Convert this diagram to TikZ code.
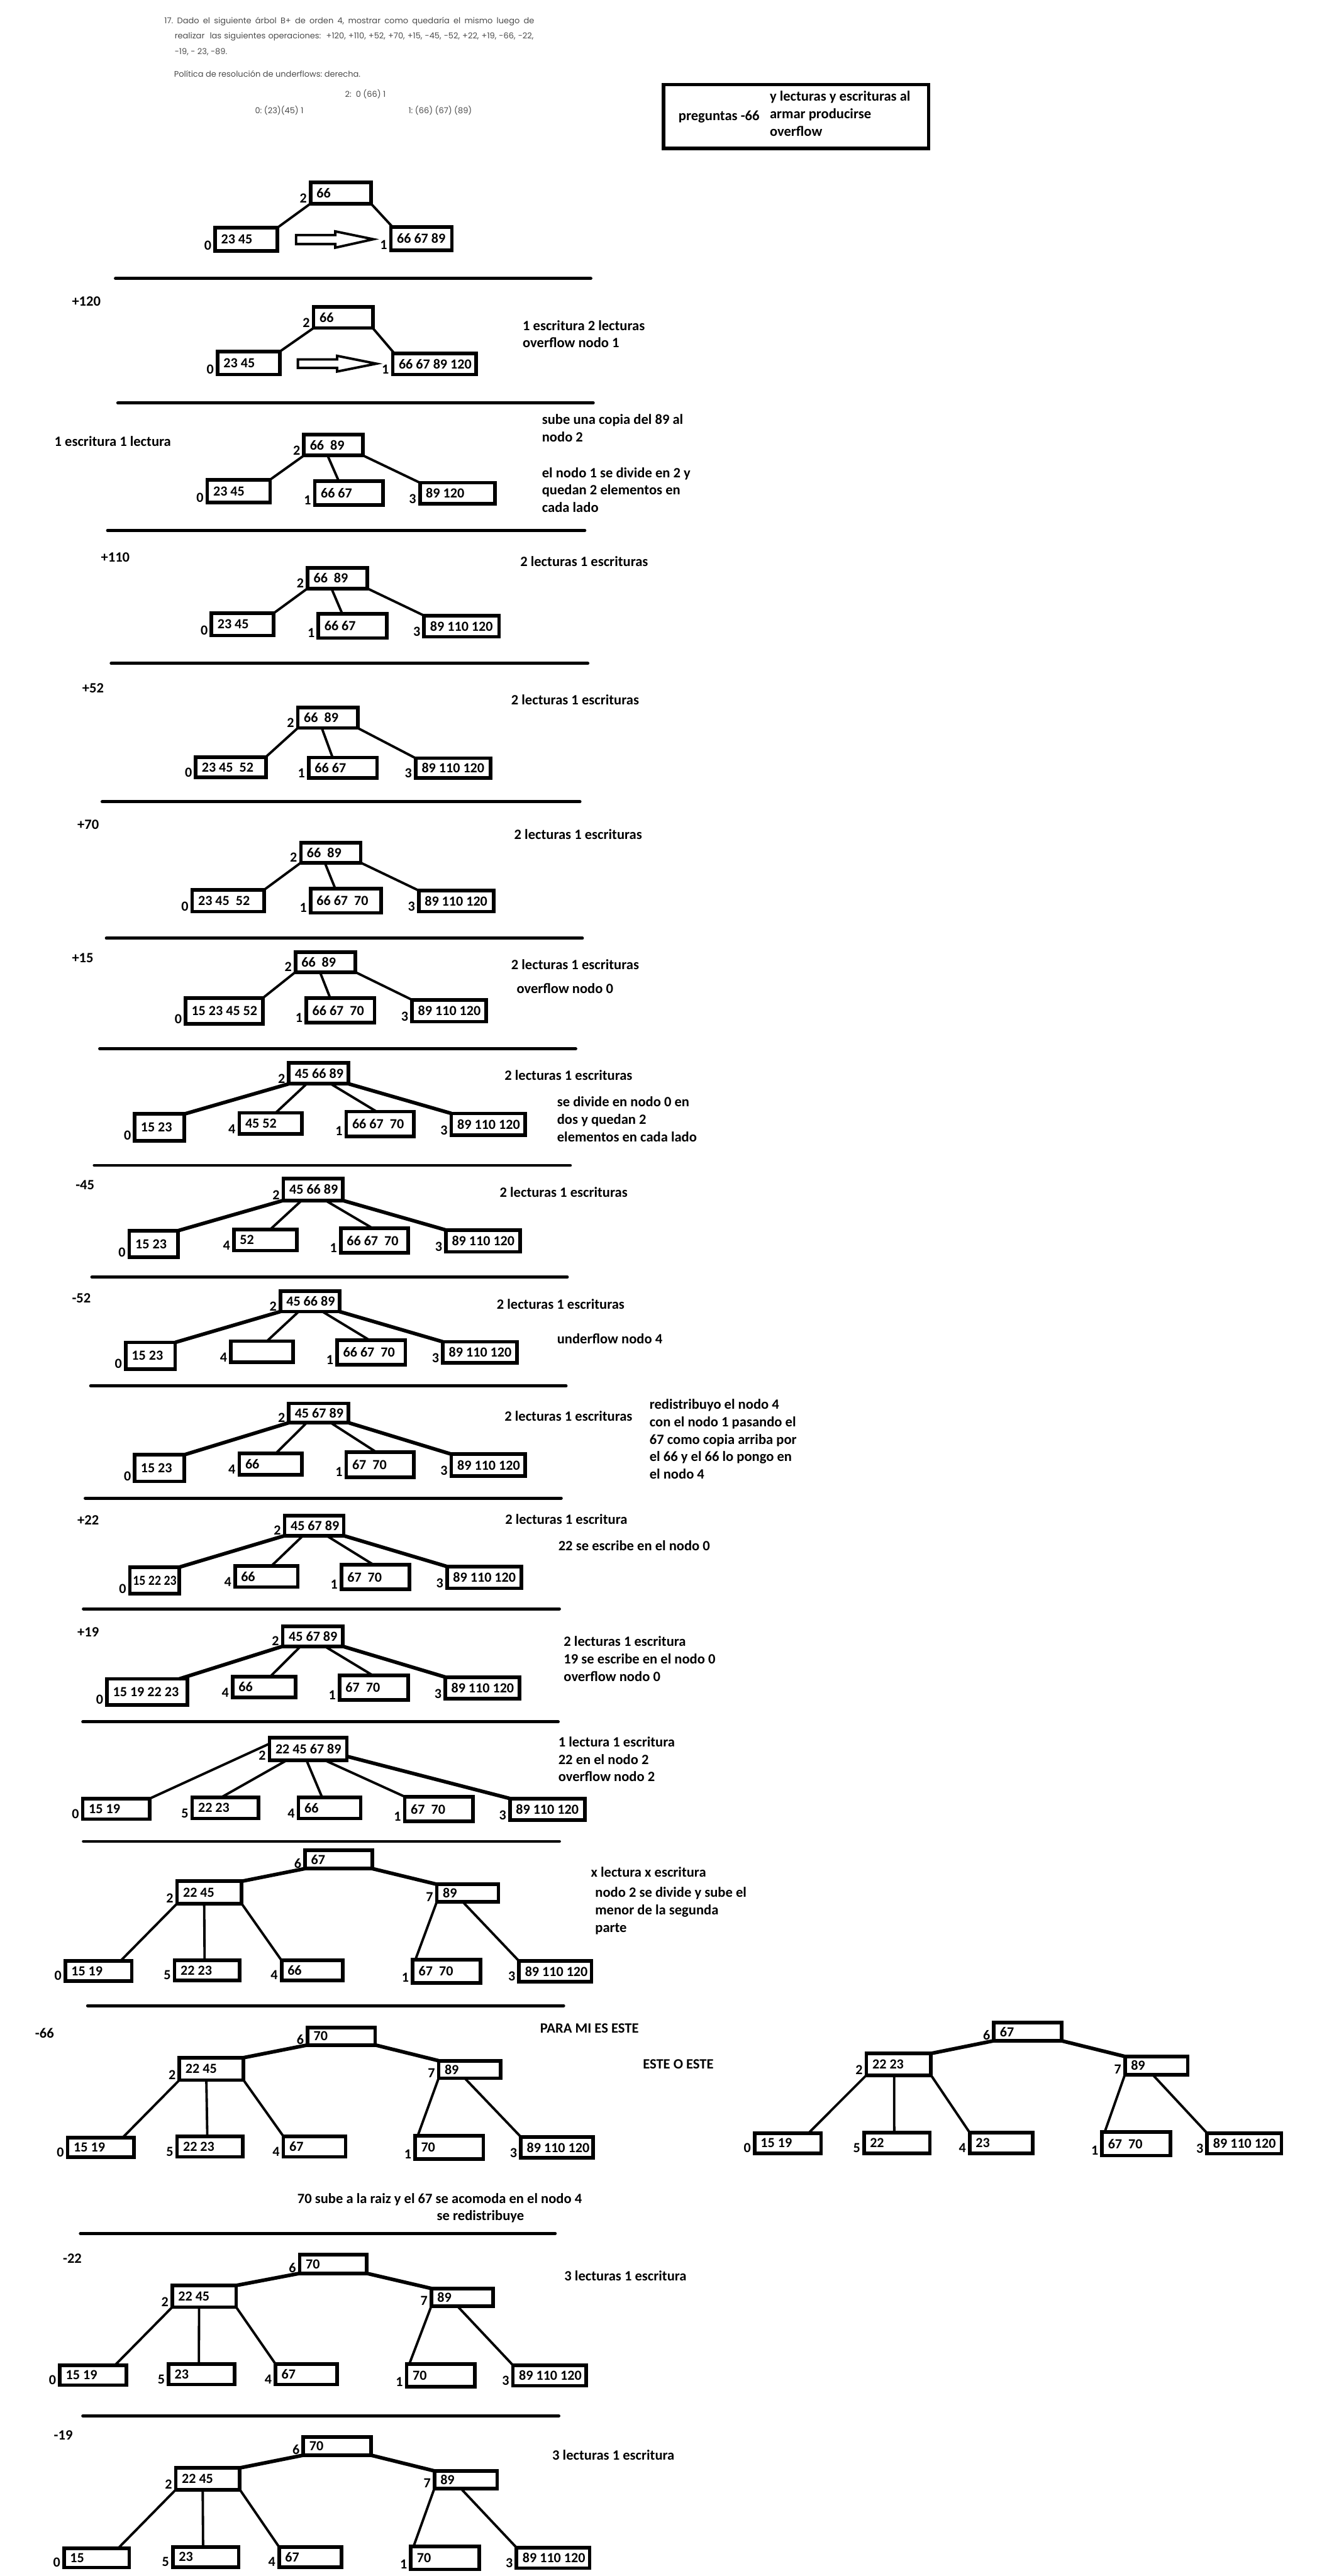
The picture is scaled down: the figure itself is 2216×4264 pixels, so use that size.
\documentclass[tikz,border=0pt]{standalone}
\usepackage{fontspec}
\usepackage{graphicx}
\usetikzlibrary{calc}
\newfontfamily\calfam{Carlito}
\newfontfamily\popfam{Poppins}
\newcommand\cfont{\calfam\bfseries\fontsize{23}{29}\selectfont}
\newcommand\nfont{\calfam\bfseries\fontsize{23.5}{29}\selectfont}
\newcommand\hdrf{\popfam\fontsize{13.5}{16}\selectfont\frenchspacing}
\definecolor{hdrgray}{gray}{0.3}
\tikzset{
  bx/.style={draw, line width=6pt, inner xsep=10pt, inner ysep=0pt, outer sep=0pt, font=\cfont, anchor=north west},
  lbl/.style={font=\cfont, inner sep=0pt, anchor=base east},
  cn/.style={line width=4pt},
  cnb/.style={line width=6pt},
  sepline/.style={line width=5pt, line cap=round},
  note/.style={font=\nfont, inner sep=0pt, anchor=west, align=left},
  hdr/.style={font=\hdrf, text=hdrgray, inner sep=0pt, anchor=west},
  blockarrow/.style={line width=4pt, line join=miter},
}
\newcommand\mybox[7]{%
  \pgfmathsetmacro\myw{#4-#2-26}%
  \pgfmathsetmacro\myh{#5-#3-6}%
  \node[bx, minimum height=\myh pt] (#1) at ({#2+3},{#3+3}) {\makebox[\myw pt][l]{#6}};%
  \node[lbl] (#1l) at ([xshift=-6pt,yshift=1pt]#1.south west) {#7};%
}
\newcommand\conn[5][cn]{%
  \draw[#1] ($(#2.south west)!#3!(#2.south east)$) -- ($(#4.north west)!#5!(#4.north east)$);%
}
\begin{document}
\begin{tikzpicture}[x=1pt,y=-1pt]
\fill[white] (0,0) rectangle (2216,4264);
\useasboundingbox (0,0) rectangle (2216,4264);

% ---------- header ----------
\node[hdr] (hd1) at (272,36) {\makebox[612pt][s]{17. Dado el siguiente árbol B+ de orden 4, mostrar como quedaría el mismo luego de}};
\node[hdr] (hd2) at (289,61) {\makebox[594pt][s]{realizar \ las siguientes operaciones: \ +120, +110, +52, +70, +15, -45, -52, +22, +19, -66, -22,}};
\node[hdr] (hd3) at (289,86) {-19, - 23, -89.};
\node[hdr] (hd4) at (288,122) {Política de resolución de underflows: derecha.};
\node[hdr] (hd5) at (571,156) {2: \ 0 (66) 1};
\node[hdr] (hd6) at (422,183) {0: (23)(45) 1};
\node[hdr] (hd7) at (676,183) {1: (66) (67) (89)};

% ---------- question box ----------
\node[draw, line width=6pt, anchor=north west, minimum width=439pt, minimum height=106pt, inner sep=0pt, outer sep=0pt] (qbox) at (1098,140) {};
\node[note] (qt1) at (1123,193) {preguntas -66};
\node[note] (qt2) at (1274,188) {y lecturas y escrituras al\\armar producirse\\overflow};

% ---------- tree A ----------
\mybox{a2}{511}{299}{617}{340}{66}{2}
\mybox{a0}{353}{374}{462}{418}{23 45}{0}
\mybox{a1}{644}{373}{751}{417}{66 67 89}{1}
\conn{a2}{0}{a0}{1}
\conn{a2}{1}{a1}{0.03}
\draw[blockarrow] (490,389) -- (555,389) -- (555,383) -- (618,396) -- (555,410) -- (555,404) -- (490,404) -- cycle;
\draw[sepline] (191,461) -- (978,461);

% ---------- tree B ----------
\node[note] (tB) at (119,499) {+120};
\mybox{b2}{516}{505}{620}{546}{66}{2}
\mybox{b0}{357}{579}{466}{623}{23 45}{0}
\mybox{b1}{647}{582}{791}{623}{66 67 89 120}{1}
\conn{b2}{0}{b0}{1}
\conn{b2}{1}{b1}{0.02}
\draw[blockarrow] (493,595) -- (558,595) -- (558,589) -- (623,602) -- (558,615) -- (558,609) -- (493,609) -- cycle;
\node[note] (nB) at (865,553) {1 escritura 2 lecturas\\overflow nodo 1};
\draw[sepline] (195,667) -- (982,667);

% ---------- tree C ----------
\node[note] (tC) at (90,730) {1 escritura 1 lectura};
\mybox{c2}{500}{716}{604}{757}{66~~89}{2}
\mybox{c0}{340}{791}{450}{835}{23 45}{0}
\mybox{c1}{518}{793}{637}{839}{66 67}{1}
\mybox{c3}{692}{796}{822}{837}{89 120}{3}
\conn{c2}{0}{c0}{1}
\conn{c2}{0.4}{c1}{0.35}
\conn{c2}{1}{c3}{0}
\node[note] (nC1) at (897,709) {sube una copia del 89 al\\nodo 2};
\node[note] (nC2) at (897,811) {el nodo 1 se divide en 2 y\\quedan 2 elementos en\\cada lado};
\draw[sepline] (178,878) -- (968,878);

% ---------- tree D ----------
\node[note] (tD) at (167,923) {+110};
\mybox{d2}{506}{937}{611}{977}{66~~89}{2}
\mybox{d0}{347}{1012}{456}{1055}{23 45}{0}
\mybox{d1}{524}{1013}{643}{1059}{66 67}{1}
\mybox{d3}{699}{1016}{829}{1057}{89 110 120}{3}
\conn{d2}{0}{d0}{1}
\conn{d2}{0.4}{d1}{0.35}
\conn{d2}{1}{d3}{0}
\node[note] (nD) at (861,929) {2 lecturas 1 escrituras};
\draw[sepline] (184,1098) -- (973,1098);

% ---------- tree E ----------
\node[note] (tE) at (136,1139) {+52};
\mybox{e2}{490}{1168}{595}{1208}{66~~89}{2}
\mybox{e0}{321}{1250}{443}{1290}{23 45~~52}{0}
\mybox{e1}{508}{1251}{627}{1291}{66 67}{1}
\mybox{e3}{685}{1252}{815}{1291}{89 110 120}{3}
\conn{e2}{0}{e0}{1}
\conn{e2}{0.4}{e1}{0.35}
\conn{e2}{1}{e3}{0}
\node[note] (nE) at (846,1158) {2 lecturas 1 escrituras};
\draw[sepline] (169,1327) -- (960,1327);

% ---------- tree F ----------
\node[note] (tF) at (128,1365) {+70};
\mybox{f2}{495}{1392}{600}{1431}{66~~89}{2}
\mybox{f0}{315}{1470}{440}{1512}{23 45~~52}{0}
\mybox{f1}{511}{1468}{634}{1514}{66 67~~70}{1}
\mybox{f3}{690}{1471}{820}{1512}{89 110 120}{3}
\conn{f2}{0}{f0}{1}
\conn{f2}{0.4}{f1}{0.35}
\conn{f2}{1}{f3}{0}
\node[note] (nF) at (851,1381) {2 lecturas 1 escrituras};
\draw[sepline] (176,1553) -- (964,1553);

% ---------- tree G ----------
\node[note] (tG) at (119,1586) {+15};
\mybox{g2}{486}{1573}{591}{1612}{66~~89}{2}
\mybox{g0}{304}{1649}{438}{1698}{15 23 45 52}{0}
\mybox{g1}{504}{1649}{623}{1696}{66 67~~70}{1}
\mybox{g3}{679}{1652}{808}{1694}{89 110 120}{3}
\conn{g2}{0}{g0}{1}
\conn{g2}{0.41}{g1}{0.35}
\conn{g2}{1}{g3}{0}
\node[note] (nG1) at (846,1597) {2 lecturas 1 escrituras};
\node[note] (nG2) at (855,1636) {overflow nodo 0};
\draw[sepline] (165,1736) -- (953,1736);

% ---------- tree H ----------
\mybox{h2}{475}{1756}{580}{1797}{45 66 89}{2}
\mybox{h0}{220}{1841}{308}{1891}{15 23}{0}
\mybox{h4}{393}{1839}{503}{1880}{45 52}{4}
\mybox{h1}{570}{1837}{688}{1884}{66 67~~70}{1}
\mybox{h3}{744}{1840}{872}{1882}{89 110 120}{3}
\conn[cnb]{h2}{0}{h0}{1}
\conn{h2}{0.3}{h4}{0.58}
\conn{h2}{0.7}{h1}{0.45}
\conn[cnb]{h2}{1}{h3}{0}
\node[note] (nH1) at (835,1780) {2 lecturas 1 escrituras};
\node[note] (nH2) at (922,1853) {se divide en nodo 0 en\\dos y quedan 2\\elementos en cada lado};
\draw[sepline] (156,1929) -- (944,1929);

% ---------- tree I ----------
\node[note] (tI) at (125,1962) {-45};
\mybox{i2}{466}{1948}{570}{1990}{45 66 89}{2}
\mybox{i0}{211}{2034}{298}{2084}{15 23}{0}
\mybox{i4}{384}{2032}{494}{2073}{52}{4}
\mybox{i1}{561}{2030}{679}{2077}{66 67~~70}{1}
\mybox{i3}{735}{2033}{864}{2075}{89 110 120}{3}
\conn[cnb]{i2}{0}{i0}{1}
\conn{i2}{0.31}{i4}{0.58}
\conn{i2}{0.71}{i1}{0.47}
\conn[cnb]{i2}{1}{i3}{0}
\node[note] (nI) at (827,1973) {2 lecturas 1 escrituras};
\draw[sepline] (152,2114) -- (939,2114);

% ---------- tree J ----------
\node[note] (tJ) at (119,2149) {-52};
\mybox{j2}{461}{2134}{565}{2174}{45 66 89}{2}
\mybox{j0}{205}{2219}{293}{2269}{15 23}{0}
\mybox{j4}{379}{2217}{488}{2258}{}{4}
\mybox{j1}{555}{2215}{674}{2262}{66 67~~70}{1}
\mybox{j3}{730}{2218}{859}{2259}{89 110 120}{3}
\conn[cnb]{j2}{0}{j0}{1}
\conn{j2}{0.31}{j4}{0.58}
\conn{j2}{0.71}{j1}{0.47}
\conn[cnb]{j2}{1}{j3}{0}
\node[note] (nJ1) at (822,2159) {2 lecturas 1 escrituras};
\node[note] (nJ2) at (922,2216) {underflow nodo 4};
\draw[sepline] (150,2294) -- (937,2294);

% ---------- tree K ----------
\mybox{k2}{475}{2320}{580}{2358}{45 67 89}{2}
\mybox{k0}{220}{2405}{308}{2455}{15 23}{0}
\mybox{k4}{393}{2403}{503}{2444}{66}{4}
\mybox{k1}{570}{2401}{688}{2448}{67~~70}{1}
\mybox{k3}{744}{2404}{872}{2446}{89 110 120}{3}
\conn[cnb]{k2}{0}{k0}{1}
\conn{k2}{0.3}{k4}{0.58}
\conn{k2}{0.7}{k1}{0.45}
\conn[cnb]{k2}{1}{k3}{0}
\node[note] (nK1) at (835,2344) {2 lecturas 1 escrituras};
\node[note] (nK2) at (1075,2382) {redistribuyo el nodo 4\\con el nodo 1 pasando el\\67 como copia arriba por\\el 66 y el 66 lo pongo en\\el nodo 4};
\draw[sepline] (141,2480) -- (929,2480);

% ---------- tree L ----------
\node[note] (tL) at (128,2516) {+22};
\mybox{l2}{468}{2506}{572}{2545}{45 67 89}{2}
\mybox{l0}{212}{2591}{300}{2641}{\hspace{-5pt}\scalebox{0.9}[1]{15 22 23}}{0}
\mybox{l4}{386}{2589}{496}{2630}{66}{4}
\mybox{l1}{562}{2587}{681}{2634}{67~~70}{1}
\mybox{l3}{737}{2590}{866}{2632}{89 110 120}{3}
\conn[cnb]{l2}{0}{l0}{1}
\conn{l2}{0.31}{l4}{0.58}
\conn{l2}{0.71}{l1}{0.47}
\conn[cnb]{l2}{1}{l3}{0}
\node[note] (nL1) at (836,2515) {2 lecturas 1 escritura};
\node[note] (nL2) at (924,2558) {22 se escribe en el nodo 0};
\draw[sepline] (138,2663) -- (926,2663);

% ---------- tree M ----------
\node[note] (tM) at (128,2702) {+19};
\mybox{m2}{465}{2689}{570}{2728}{45 67 89}{2}
\mybox{m0}{174}{2776}{313}{2825}{15 19 22 23}{0}
\mybox{m4}{382}{2772}{492}{2813}{66}{4}
\mybox{m1}{559}{2770}{679}{2817}{67~~70}{1}
\mybox{m3}{734}{2773}{863}{2815}{89 110 120}{3}
\conn[cnb]{m2}{0}{m0}{0.9}
\conn{m2}{0.3}{m4}{0.6}
\conn{m2}{0.7}{m1}{0.48}
\conn[cnb]{m2}{1}{m3}{0}
\node[note] (nM) at (933,2746) {2 lecturas 1 escritura\\19 se escribe en el nodo 0\\overflow nodo 0};
\draw[sepline] (137,2850) -- (924,2850);

% ---------- tree N ----------
\mybox{n2}{443}{2873}{577}{2917}{22 45 67 89}{2}
\mybox{n0}{134}{2974}{251}{3014}{15 19}{0}
\mybox{n5}{315}{2972}{431}{3013}{22 23}{5}
\mybox{n4}{491}{2972}{600}{3013}{66}{4}
\mybox{n1}{667}{2971}{786}{3018}{67~~70}{1}
\mybox{n3}{841}{2974}{971}{3016}{89 110 120}{3}
\draw[cn] ($(n2.north west)!0.27!(n2.south west)$) -- (n0.north east);
\conn{n2}{0.22}{n5}{0.44}
\conn{n2}{0.48}{n4}{0.38}
\conn{n2}{0.72}{n1}{0}
\draw[cnb] ($(n2.north east)!0.82!(n2.south east)$) -- (n3.north west);
\node[note] (nN) at (924,2912) {1 lectura 1 escritura\\22 en el nodo 2\\overflow nodo 2};
\draw[sepline] (138,3048) -- (926,3048);

% ---------- tree O ----------
\mybox{o6}{502}{3060}{619}{3096}{67}{6}
\mybox{o2}{290}{3111}{403}{3154}{22 45}{2}
\mybox{o7}{720}{3116}{828}{3151}{89}{7}
\mybox{o0}{105}{3243}{221}{3282}{15 19}{0}
\mybox{o5}{286}{3242}{400}{3281}{22 23}{5}
\mybox{o4}{463}{3242}{570}{3281}{66}{4}
\mybox{o1}{680}{3241}{798}{3285}{67~~70}{1}
\mybox{o3}{856}{3243}{982}{3283}{89 110 120}{3}
\conn[cnb]{o6}{0}{o2}{1}
\conn[cnb]{o6}{1}{o7}{0}
\conn{o2}{0}{o0}{0.83}
\conn{o2}{0.42}{o5}{0.46}
\conn{o2}{1}{o4}{0}
\conn{o7}{0}{o1}{0.04}
\conn{o7}{0.42}{o3}{0}
\node[note] (nO1) at (978,3099) {x lectura x escritura};
\node[note] (nO2) at (985,3163) {nodo 2 se divide y sube el\\menor de la segunda\\parte};
\draw[sepline] (145,3320) -- (933,3320);

% ---------- tree P ----------
\node[note] (tP) at (58,3365) {-66};
\mybox{p6}{506}{3353}{624}{3388}{70}{6}
\mybox{p2}{294}{3403}{406}{3446}{22 45}{2}
\mybox{p7}{723}{3408}{832}{3443}{89}{7}
\mybox{p0}{109}{3535}{225}{3574}{15 19}{0}
\mybox{p5}{290}{3533}{405}{3573}{22 23}{5}
\mybox{p4}{466}{3533}{575}{3573}{67}{4}
\mybox{p1}{684}{3532}{803}{3577}{70}{1}
\mybox{p3}{859}{3534}{985}{3575}{89 110 120}{3}
\conn[cnb]{p6}{0}{p2}{1}
\conn[cnb]{p6}{1}{p7}{0}
\conn{p2}{0}{p0}{0.83}
\conn{p2}{0.42}{p5}{0.46}
\conn{p2}{1}{p4}{0}
\conn{p7}{0}{p1}{0.04}
\conn{p7}{0.42}{p3}{0}
\node[note] (nP1) at (894,3357) {PARA MI ES ESTE};
\node[note] (nP2) at (1064,3417) {ESTE O ESTE};
\node[note] (nP3) at (492,3641) {70 sube a la raiz y el 67 se acomoda en el nodo 4};
\node[note] (nP4) at (723,3669) {se redistribuye};
\draw[sepline] (133,3697) -- (919,3697);

% ---------- tree S (alternative) ----------
\mybox{s6}{1642}{3345}{1760}{3381}{67}{6}
\mybox{s2}{1431}{3396}{1544}{3438}{22 23}{2}
\mybox{s7}{1859}{3401}{1969}{3437}{89}{7}
\mybox{s0}{1246}{3528}{1362}{3567}{15 19}{0}
\mybox{s5}{1427}{3527}{1542}{3567}{22}{5}
\mybox{s4}{1602}{3527}{1712}{3567}{23}{4}
\mybox{s1}{1821}{3526}{1940}{3571}{67~~70}{1}
\mybox{s3}{1995}{3528}{2124}{3568}{89 110 120}{3}
\conn[cnb]{s6}{0}{s2}{1}
\conn[cnb]{s6}{1}{s7}{0}
\conn{s2}{0}{s0}{0.81}
\conn{s2}{0.43}{s5}{0.46}
\conn{s2}{1}{s4}{0}
\conn{s7}{0}{s1}{0.04}
\conn{s7}{0.44}{s3}{0}

% ---------- tree Q ----------
\node[note] (tQ) at (104,3738) {-22};
\mybox{q6}{493}{3729}{610}{3766}{70}{6}
\mybox{q2}{282}{3780}{394}{3822}{22 45}{2}
\mybox{q7}{711}{3785}{819}{3820}{89}{7}
\mybox{q0}{96}{3912}{212}{3951}{15 19}{0}
\mybox{q5}{276}{3910}{391}{3950}{23}{5}
\mybox{q4}{453}{3910}{561}{3950}{67}{4}
\mybox{q1}{670}{3910}{789}{3954}{70}{1}
\mybox{q3}{846}{3912}{973}{3952}{89 110 120}{3}
\conn[cnb]{q6}{0}{q2}{1}
\conn[cnb]{q6}{1}{q7}{0}
\conn{q2}{0}{q0}{0.83}
\conn{q2}{0.42}{q5}{0.46}
\conn{q2}{1}{q4}{0}
\conn{q7}{0}{q1}{0.04}
\conn{q7}{0.42}{q3}{0}
\node[note] (nQ) at (934,3767) {3 lecturas 1 escritura};
\draw[sepline] (137,3999) -- (925,3999);

% ---------- tree R ----------
\node[note] (tR) at (89,4031) {-19};
\mybox{r6}{499}{4031}{617}{4067}{70}{6}
\mybox{r2}{288}{4082}{400}{4124}{22 45}{2}
\mybox{r7}{716}{4087}{826}{4122}{89}{7}
\mybox{r0}{103}{4215}{217}{4253}{15}{0}
\mybox{r5}{283}{4213}{398}{4252}{23}{5}
\mybox{r4}{459}{4213}{568}{4252}{67}{4}
\mybox{r1}{677}{4212}{796}{4256}{70}{1}
\mybox{r3}{852}{4214}{979}{4254}{89 110 120}{3}
\conn[cnb]{r6}{0}{r2}{1}
\conn[cnb]{r6}{1}{r7}{0}
\conn{r2}{0}{r0}{0.83}
\conn{r2}{0.42}{r5}{0.46}
\conn{r2}{1}{r4}{0}
\conn{r7}{0}{r1}{0.04}
\conn{r7}{0.42}{r3}{0}
\node[note] (nR) at (914,4064) {3 lecturas 1 escritura};
\end{tikzpicture}
\end{document}
